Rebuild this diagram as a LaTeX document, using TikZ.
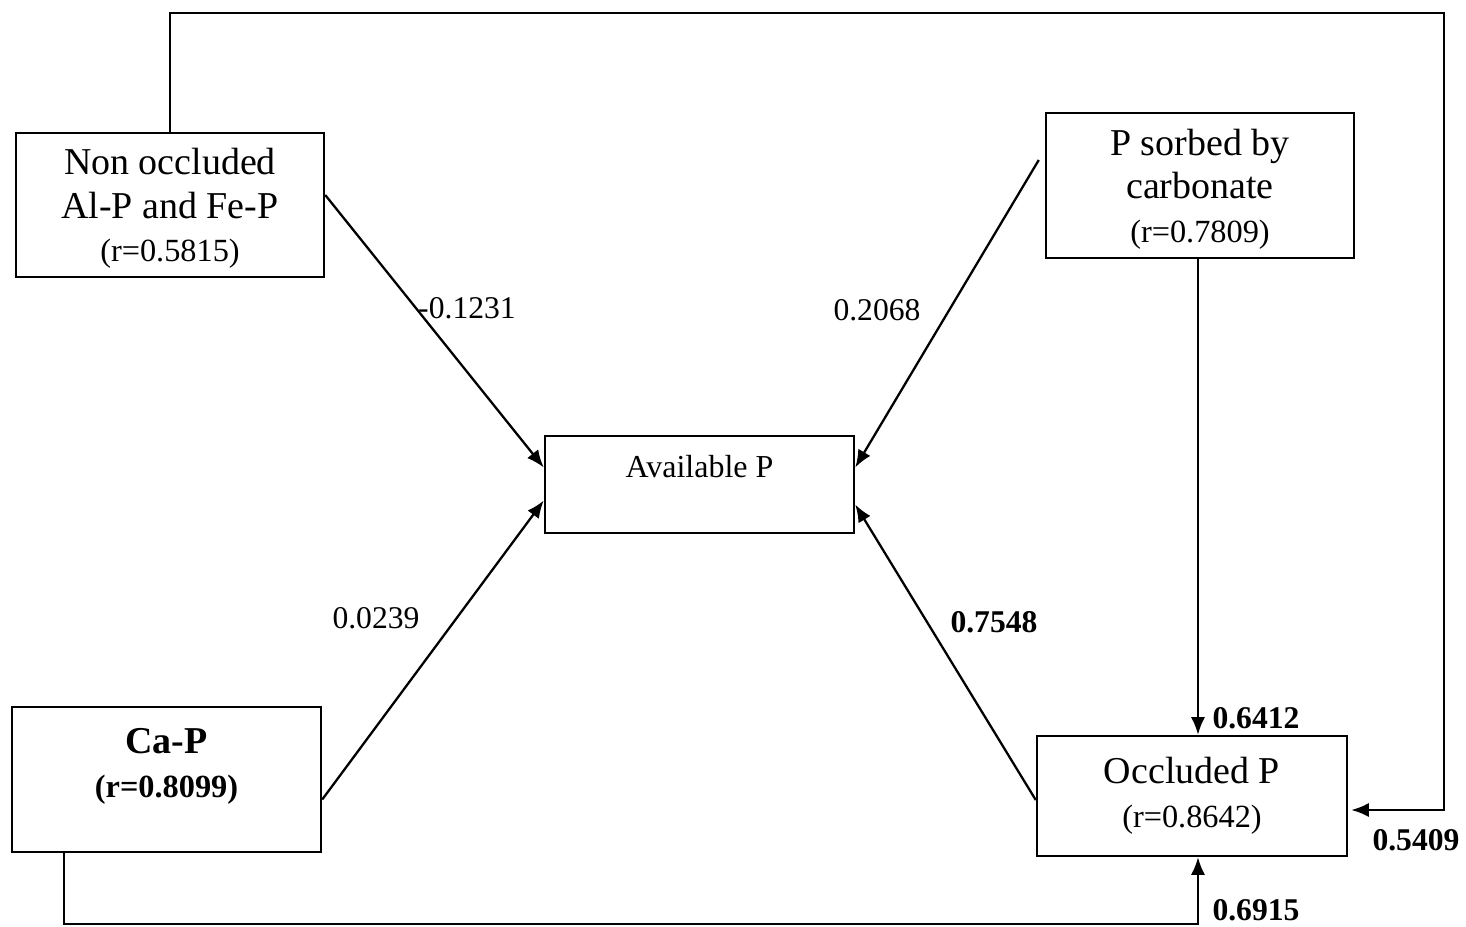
\documentclass[tikz,border=0pt]{standalone}
\usepackage{fontspec}
\setmainfont{Liberation Serif}
\usetikzlibrary{arrows.meta}

\tikzstyle{box} = [draw, line width=0.7pt, align=center, inner sep=2pt, font=\fontsize{10.8}{12.4}\selectfont]
\tikzstyle{coef} = [inner sep=1pt, font=\fontsize{9}{11}\selectfont]
\tikzstyle{bcoef} = [inner sep=1pt, font=\fontsize{9}{11}\selectfont\bfseries]
\tikzstyle{link} = [draw, line width=0.65pt, -{Latex[length=5pt,width=4pt]}]

\newcommand{\rline}[1]{{\fontsize{9.2}{12.4}\selectfont #1}}

\begin{document}
\begin{tikzpicture}
    \useasboundingbox (0,0) rectangle (14.66,-9.27);

    % boxes
    \node[box, minimum width=3.08cm, minimum height=1.44cm, text depth=0.0cm] (nonocc) at (1.70,-2.05)
      {Non occluded\\Al-P and Fe-P\\\rline{(r=0.5815)}};
    \node[box, minimum width=3.08cm, minimum height=1.45cm, text depth=0.0cm] (psorb) at (12.00,-1.855)
      {P sorbed by\\carbonate\\\rline{(r=0.7809)}};
    \node[box, minimum width=3.09cm, minimum height=0.97cm, text height=0.22cm, text depth=0.36cm,
      font=\fontsize{9.1}{11}\selectfont] (avail) at (6.995,-4.845) {Available P};
    \node[box, minimum width=3.09cm, minimum height=1.45cm, text depth=0.33cm,
      font=\fontsize{10.8}{12.4}\selectfont\bfseries] (capp) at (1.665,-7.795)
      {Ca-P\\\rline{(r=0.8099)}};
    \node[box, minimum width=3.10cm, minimum height=1.20cm] (occl) at (11.92,-7.96)
      {Occluded P\\\rline{(r=0.8642)}};

    % path coefficients
    \node[coef] (wnon) at (4.67,-3.08) {-0.1231};
    \node[coef] (wsorb) at (8.77,-3.10) {0.2068};
    \node[coef] (wca) at (3.76,-6.18) {0.0239};
    \node[bcoef] (wocc) at (9.94,-6.22) {0.7548};
    \node[bcoef] (wsorbocc) at (12.56,-7.18) {0.6412};
    \node[bcoef] (wnonocc) at (14.16,-8.40) {0.5409};
    \node[bcoef] (wcaocc) at (12.56,-9.10) {0.6915};

    % arrows into Available P
    \draw[link] ([yshift=0.10cm]nonocc.east) -- ([yshift=0.17cm]avail.west);
    \draw[link] ([xshift=-0.06cm,yshift=0.255cm]psorb.west) -- ([yshift=0.17cm]avail.east);
    \draw[link] ([yshift=-0.20cm]capp.east) -- ([yshift=-0.16cm]avail.west);
    \draw[link] ([yshift=-0.04cm]occl.west) -- ([yshift=-0.20cm]avail.east);

    % arrows into Occluded P
    \draw[link] ([xshift=-0.02cm]psorb.south) -- ([xshift=-0.02cm]psorb.south |- occl.north);
    \coordinate (topright) at (14.44,-0.13);
    \draw[link] (nonocc.north) |- (topright) |- ([xshift=0.03cm,yshift=-0.14cm]occl.east);
    \coordinate (botright) at (11.98,-9.24);
    \draw[link] ([xshift=0.53cm]capp.south west) |- (botright) -- (botright |- occl.south);
\end{tikzpicture}
\end{document}
